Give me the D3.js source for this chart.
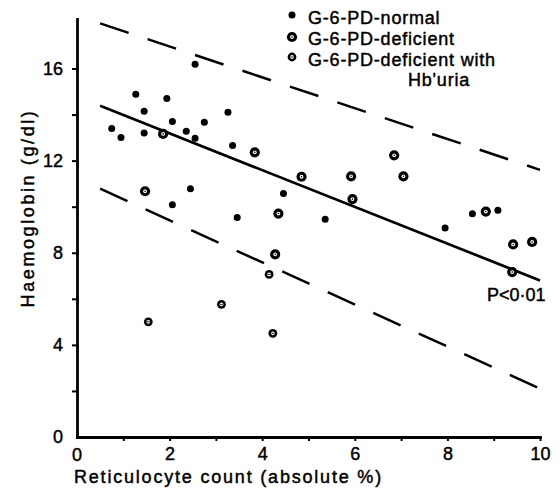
<!DOCTYPE html>
<html>
<head>
<meta charset="utf-8">
<script src="https://cdn.jsdelivr.net/npm/d3@7"></script>
<style>
  body { margin: 0; background: #fff; }
  svg text { font-family: "Liberation Sans", Arial, sans-serif; fill: #000; stroke: #000; stroke-width: 0.45px; }
</style>
</head>
<body>
<svg id="chart" width="560" height="490"></svg>
<script>
// values: reticulocyte count (x) vs haemoglobin (y)
let normalX = [0.75, 0.95, 1.27, 1.45, 1.45, 1.94, 2.06, 2.36, 2.55, 2.55, 2.75, 3.26, 3.36, 2.45, 2.06, 4.46, 3.46, 5.36, 7.95, 8.54, 9.09];
let normalY = [13.4, 13.0, 14.88, 14.14, 13.2, 14.7, 13.7, 13.28, 12.97, 16.18, 13.67, 14.1, 12.66, 10.78, 10.08, 10.57, 9.53, 9.46, 9.08, 9.69, 9.85];

let deficientX = [1.86, 3.84, 4.85, 1.47, 4.35, 4.28, 6.85, 5.92, 7.05, 5.95, 8.83, 9.42, 9.83, 9.4];
let deficientY = [13.16, 12.36, 11.3, 10.67, 9.7, 7.93, 12.23, 11.32, 11.32, 10.33, 9.79, 8.36, 8.47, 7.16];

let hburiaX = [1.54, 3.12, 4.23, 4.15];
let hburiaY = [5.0, 5.76, 4.5, 7.06];

// regression line and the two dashed limits (end points)
let lineX = [0.5, 10];
let regY = [14.38, 6.8];
let upperY = [17.96, 11.6];
let lowerY = [10.78, 2.1];

let xTicks = [0, 1, 2, 3, 4, 5, 6, 7, 8, 9, 10];
let yTicks = [0, 2, 4, 6, 8, 10, 12, 14, 16];

let legendLabels = ['G-6-PD-normal', 'G-6-PD-deficient', 'G-6-PD-deficient with'];

let svg = d3.select('#chart');

let x = d3.scaleLinear().domain([0, 10]).range([77, 540]);
let y = d3.scaleLinear().domain([0, 18.15]).range([437, 19]);

// axes
let xAxis = d3.axisBottom(x)
  .tickValues(xTicks.slice(1))
  .tickSize(4)
  .tickSizeOuter(0)
  .tickPadding(6)
  .tickFormat(d => d % 2 === 0 ? d : '');

let yAxis = d3.axisLeft(y)
  .tickValues(yTicks.slice(1))
  .tickSize(5)
  .tickSizeOuter(0)
  .tickPadding(9)
  .tickFormat(d => d % 4 === 0 ? d : '');

let gx = svg.append('g').attr('transform', 'translate(0,437)').call(xAxis);
let gy = svg.append('g').attr('transform', 'translate(77,0)').call(yAxis);

[gx, gy].forEach(g => {
  g.select('.domain').attr('stroke-width', 2.8).attr('stroke-linecap', 'square');
  g.selectAll('.tick line').attr('stroke-width', 2);
  g.selectAll('.tick text').attr('font-size', 18).attr('font-family', '"Liberation Sans", Arial, sans-serif');
});

// zero labels for both axes
svg.append('text').attr('x', x(0)).attr('y', 461).attr('text-anchor', 'middle')
  .attr('font-size', 18).text('0');
svg.append('text').attr('x', 63).attr('y', y(0)).attr('dy', '0.34em').attr('text-anchor', 'end')
  .attr('font-size', 18).text('0');

// axis titles
svg.append('text')
  .attr('x', 74).attr('y', 483)
  .attr('font-size', 18)
  .attr('letter-spacing', 1.8)
  .text('Reticulocyte count (absolute %)');

svg.append('text')
  .attr('transform', 'translate(34,208) rotate(-90)')
  .attr('text-anchor', 'middle')
  .attr('font-size', 18)
  .attr('letter-spacing', 2.6)
  .text('Haemoglobin (g/dl)');

// lines
let line = d3.line().x(d => x(d[0])).y(d => y(d[1]));

svg.append('path')
  .datum(lineX.map((v, i) => [v, regY[i]]))
  .attr('d', line)
  .attr('fill', 'none').attr('stroke', '#000').attr('stroke-width', 2.7);

[upperY, lowerY].forEach(ys => {
  svg.append('path')
    .datum(lineX.map((v, i) => [v, ys[i]]))
    .attr('d', line)
    .attr('fill', 'none').attr('stroke', '#000').attr('stroke-width', 2.5)
    .attr('stroke-dasharray', '30,20');
});

// markers
function drawNormal(g) {
  g.append('circle').attr('r', 3.5).attr('fill', '#000');
}
function drawDeficient(g) {
  g.append('circle').attr('r', 5.1).attr('fill', '#000');
  g.append('circle').attr('r', 1.9).attr('fill', '#fff');
  g.append('circle').attr('r', 0.8).attr('fill', '#000');
}
function drawHburia(g) {
  g.append('circle').attr('r', 4.4).attr('fill', '#000');
  g.append('circle').attr('r', 1.9).attr('fill', '#fff');
  g.append('line').attr('x1', -1.5).attr('x2', 1.5).attr('stroke', '#000').attr('stroke-width', 0.9);
}

function plotGroup(xs, ys, draw) {
  xs.forEach((v, i) => {
    let g = svg.append('g').attr('transform', `translate(${x(v)},${y(ys[i])})`);
    draw(g);
  });
}

plotGroup(normalX, normalY, drawNormal);
plotGroup(deficientX, deficientY, drawDeficient);
plotGroup(hburiaX, hburiaY, drawHburia);

// legend
let legendY = [15, 37, 57];
let drawers = [drawNormal, drawDeficient, drawHburia];
legendLabels.forEach((lab, i) => {
  let g = svg.append('g').attr('transform', `translate(292,${legendY[i]})`);
  drawers[i](g);
  svg.append('text').attr('x', 308).attr('y', [24, 45, 66][i])
    .attr('font-size', 18).attr('letter-spacing', 0.8).text(lab);
});
svg.append('text').attr('x', 408).attr('y', 86)
  .attr('font-size', 18).attr('letter-spacing', 0.8).text("Hb'uria");

// significance
svg.append('text').attr('x', 487).attr('y', 301)
  .attr('font-size', 18).text('P<0·01');
</script>
</body>
</html>
